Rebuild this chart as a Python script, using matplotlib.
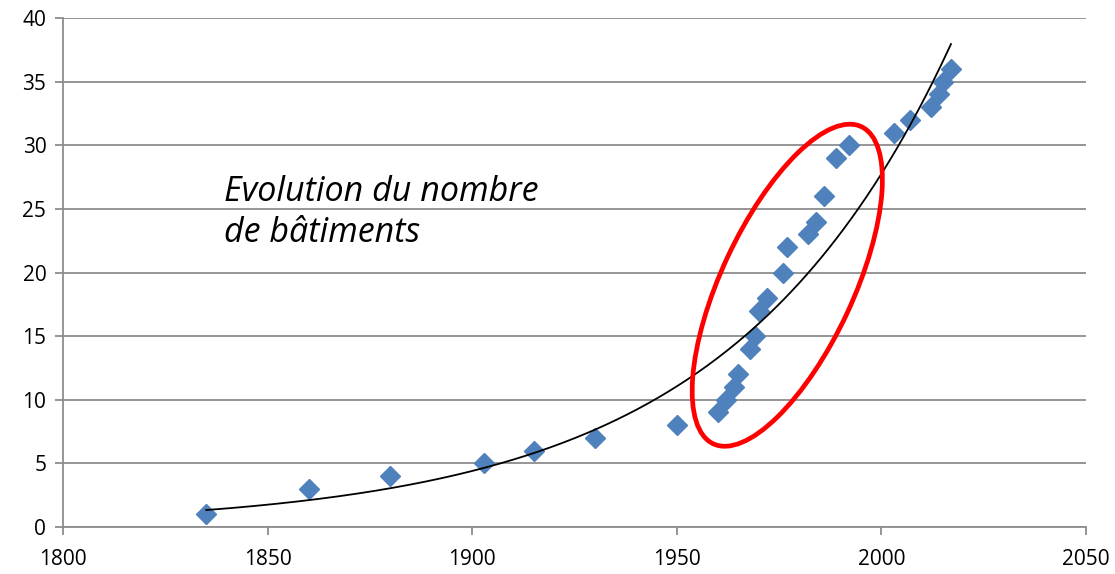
import numpy as np
import matplotlib
matplotlib.use("Agg")
import matplotlib.pyplot as plt
from matplotlib.patches import Ellipse
from matplotlib.transforms import IdentityTransform

years = [1835, 1860, 1880, 1903, 1915, 1930, 1950, 1960, 1962, 1964, 1965, 1968,
         1969, 1970, 1972, 1976, 1977, 1982, 1984, 1986, 1989, 1992, 2003, 2007,
         2012, 2014, 2015, 2017]
buildings = [1, 3, 4, 5, 6, 7, 8, 9, 10, 11, 12, 14,
             15, 17, 18, 20, 22, 23, 24, 26, 29, 30, 31, 32,
             33, 34, 35, 36]
x_ticks = [1800, 1850, 1900, 1950, 2000, 2050]
y_ticks = [0, 5, 10, 15, 20, 25, 30, 35, 40]
annotation = "Evolution du nombre\nde bâtiments"

fig = plt.figure(figsize=(11.15, 5.74), dpi=100)
ax = fig.add_axes([0.0565, 0.0819, 0.9175, 0.8867])

ax.set_xlim(1800, 2050)
ax.set_ylim(0, 40)
ax.set_xticks(x_ticks)
ax.set_yticks(y_ticks)
ax.yaxis.grid(True, color="#8c8c8c", linewidth=1.3)
ax.set_axisbelow(True)
for s in ["top", "right"]:
    ax.spines[s].set_visible(False)
for s in ["left", "bottom"]:
    ax.spines[s].set_color("#8c8c8c")
    ax.spines[s].set_linewidth(1.3)
ax.tick_params(axis="both", colors="#8c8c8c", length=6, width=1.3,
               labelcolor="black", labelsize=15)
ax.tick_params(axis="x", pad=10)
ax.tick_params(axis="y", pad=6)
for lab in ax.get_xticklabels() + ax.get_yticklabels():
    lab.set_family("Open Sans")

ax.plot(years, buildings, linestyle="none", marker="D", markersize=10,
        color="#4f81bd", zorder=3)

# exponential trendline (least squares on log)
b, a = np.polyfit(years, np.log(buildings), 1)
xt = np.linspace(min(years), max(years), 300)
ax.plot(xt, np.exp(a + b * xt), color="black", linewidth=1.3, zorder=4)

ax.text(1839.4, 24.7, annotation, fontsize=24.5, style="italic",
        family="Open Sans", va="center", ha="left", linespacing=1.28)

fig.canvas.draw()
cx, cy = ax.transData.transform((1977, 19.0))
ell = Ellipse((cx, cy), width=2 * 175, height=2 * 66, angle=65,
              transform=IdentityTransform(), fill=False,
              edgecolor="#ff0000", linewidth=3.4, zorder=5)
ax.add_artist(ell)

fig.savefig("out.png", dpi=100)
